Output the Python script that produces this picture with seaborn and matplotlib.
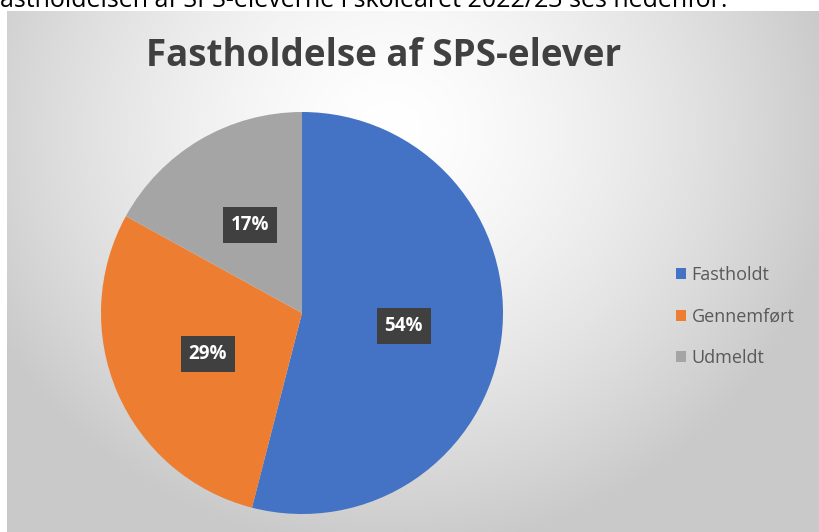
import numpy as np
import matplotlib
matplotlib.use("Agg")
import matplotlib.pyplot as plt
import seaborn as sns

# ---- data ----
categories = ["Fastholdt", "Gennemført", "Udmeldt"]
values = [54, 29, 17]
title = "Fastholdelse af SPS-elever"
top_text = "astholdelsen af SPS-eleverne i skoleåret 2022/23 ses nedenfor:"

sns.set_theme(style="white")
plt.rcParams['font.family'] = ['Open Sans', 'DejaVu Sans']
colors = sns.color_palette(["#4472C4", "#ED7D31", "#A5A5A5"])

W, H = 819, 532
fig = plt.figure(figsize=(W / 100, H / 100), dpi=100)
fig.patch.set_facecolor("white")

# background with radial gradient (chart area)
x0, x1, y0, y1 = 7, 819, 11, 532
bg = fig.add_axes([x0 / W, 1 - y1 / H, (x1 - x0) / W, (y1 - y0) / H])
xs = np.arange(x0, x1)
ys = np.arange(y0, y1)
X, Y = np.meshgrid(xs, ys)
r = np.sqrt(((X - 390) / 450.0) ** 2 + ((Y - 130) / 420.0) ** 2)
r = np.clip(r, 0, 1)
v = 1 - 0.21 * r ** 1.5
img = np.dstack([v, v, v])
bg.imshow(img, aspect="auto", extent=[0, 1, 0, 1], origin="upper")
bg.set_axis_off()

# clipped text at very top (cut off in the reference as well)
fig.text(0.0, 1 - 7 / H, top_text, fontsize=18, color="black",
         va="baseline", ha="left", family=["Open Sans", "DejaVu Sans"])

# title
fig.text(384 / W, 1 - 56 / H, title, fontsize=26.5, fontweight="bold",
         color="#404040", ha="center", va="center")

# pie
cx, cy, R = 302, 313, 201
ax = fig.add_axes([(cx - R) / W, 1 - (cy + R) / H, 2 * R / W, 2 * R / H])
ax.set_facecolor("none")
wedges, texts, autotexts = ax.pie(
    values, colors=colors, startangle=90, counterclock=False,
    autopct=lambda p: f"{p:.0f}%", pctdistance=0.51,
    wedgeprops=dict(linewidth=0),
    textprops=dict(color="white", fontsize=13.5, fontweight="bold"))
for t in autotexts:
    t.set_bbox(dict(boxstyle="square,pad=0.42", facecolor="#404040",
                    edgecolor="none"))
ax.set_xlim(-1, 1)
ax.set_ylim(-1, 1)
ax.set_axis_off()

# legend
leg = fig.legend(wedges, categories, loc="upper left",
                 bbox_to_anchor=(660 / W, 1 - 250 / H), frameon=False,
                 fontsize=13, labelcolor="#595959", handlelength=0.55,
                 handleheight=0.55, handletextpad=0.3, labelspacing=1.3)

fig.savefig("out.png", dpi=100)
